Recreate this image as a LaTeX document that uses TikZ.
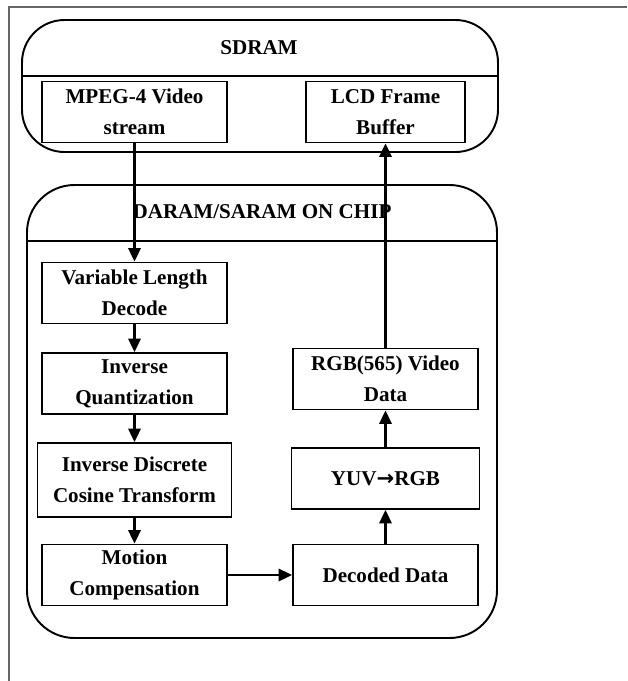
\documentclass[tikz,border=0pt]{standalone}
\usepackage{fontspec}
\setmainfont{Liberation Serif}
\usetikzlibrary{arrows.meta,positioning}

\begin{document}
\begin{tikzpicture}[
  x=0.02cm, y=-0.02cm,
  font=\bfseries\fontsize{12}{17.6}\selectfont,
  mem/.style={draw,line width=1.1pt,rounded corners=0.85cm},
  blk/.style={draw,line width=1.1pt,minimum width=3.7cm,minimum height=1.22cm,align=center,inner sep=0pt},
  arr/.style={-{Triangle[length=0.27cm,width=0.25cm]},line width=1.2pt}
]
\useasboundingbox (0,0) rectangle (627,681);
\draw[gray!80!black,line width=0.8pt] (627,7) -- (9,7) -- (9,681);

% memories
\draw[mem] (22,20) rectangle (498,152);
\draw[line width=1.1pt] (22,76) -- (498,76);
\node (sdram) at (259,48) {SDRAM};
\draw[mem,rounded corners=0.95cm] (27,185) rectangle (497,638);
\draw[line width=1.1pt] (27,241) -- (497,241);
\node (chip) at (262,212) {DARAM/SARAM ON CHIP};

% blocks
\node[blk] (mpeg) at (134.5,112) {MPEG-4 Video\\stream};
\node[blk,minimum width=3.18cm] (lcd) at (385.5,112) {LCD Frame\\Buffer};
\node[blk] (vld)  at (134.5,293) {Variable Length\\Decode};
\node[blk] (iq)   at (134.5,383.5) {Inverse\\Quantization};
\node[blk,minimum width=3.88cm,minimum height=1.48cm] (idct) at (134.5,480) {Inverse Discrete\\Cosine Transform};
\node[blk] (mc)   at (134.5,575) {Motion\\Compensation};
\node[blk] (dec)  at (385.5,575) {Decoded Data};
\node[blk,minimum width=3.76cm] (yuv) at (385.5,478.5) {YUV{\fontspec{DejaVu Sans}\bfseries →}RGB};
\node[blk] (rgb)  at (385.5,379) {RGB(565) Video\\Data};

\draw[arr] (mpeg) -- (vld);
\draw[arr] (vld) -- (iq);
\draw[arr] (iq) -- (idct);
\draw[arr] (idct) -- (mc);
\draw[arr] (mc) -- (dec);
\draw[arr] (dec) -- (yuv);
\draw[arr] (yuv) -- (rgb);
\draw[arr] (rgb) -- (lcd);
\end{tikzpicture}
\end{document}
